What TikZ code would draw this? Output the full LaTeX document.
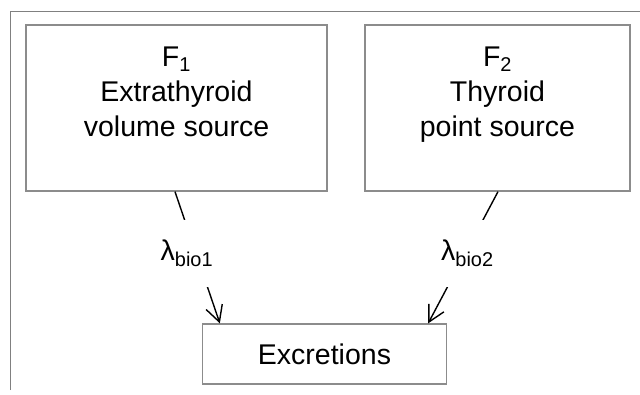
\documentclass[tikz,border=0pt]{standalone}
\usepackage{fontspec}
\setmainfont{Liberation Sans}
\usepackage{tikz}
\usetikzlibrary{positioning,arrows.meta}

\tikzset{
  srcbox/.style={draw=gray!90, line width=1.3pt, minimum height=166, inner sep=0pt},
  conn/.style={line width=1.4pt, black},
  rate/.style={fill=white, minimum width=60, minimum height=67, inner sep=0pt}
}

\begin{document}
\begin{tikzpicture}[x=1pt, y=-1pt, font=\fontsize{28.5}{35}\selectfont]
            \useasboundingbox (0,0) rectangle (640,394);
            % outer frame
            \draw[gray, line width=1pt] (10,390) -- (10,11) -- (640,11);
            % sources
            \node[srcbox, minimum width=301] (f1) at (176.5,108) {};
            \node[srcbox, minimum width=265] (f2) at (497.5,108) {};
            \node[align=center, below=19pt of f1.north] (f1txt) {F\textsubscript{1}\\Extrathyroid\\volume source};
            \node[align=center, below=19pt of f2.north] (f2txt) {F\textsubscript{2}\\Thyroid\\point source};
            % sink
            \node[srcbox, minimum width=244, minimum height=60] (ex) at (324.5,354) {Excretions};
            % rates
            \draw[conn, -{Straight Barb[length=16pt, width=17pt]}] ([xshift=-1.5]f1.south) -- node[rate, pos=0.466, xshift=-9] (lam1) {λ\textsubscript{bio1}} ([xshift=18]ex.north west);
            \draw[conn, -{Straight Barb[length=16pt, width=17pt]}] ([xshift=0.5]f2.south) -- node[rate, pos=0.466, xshift=2] (lam2) {λ\textsubscript{bio2}} ([xshift=-19]ex.north east);
        \end{tikzpicture}
\end{document}
